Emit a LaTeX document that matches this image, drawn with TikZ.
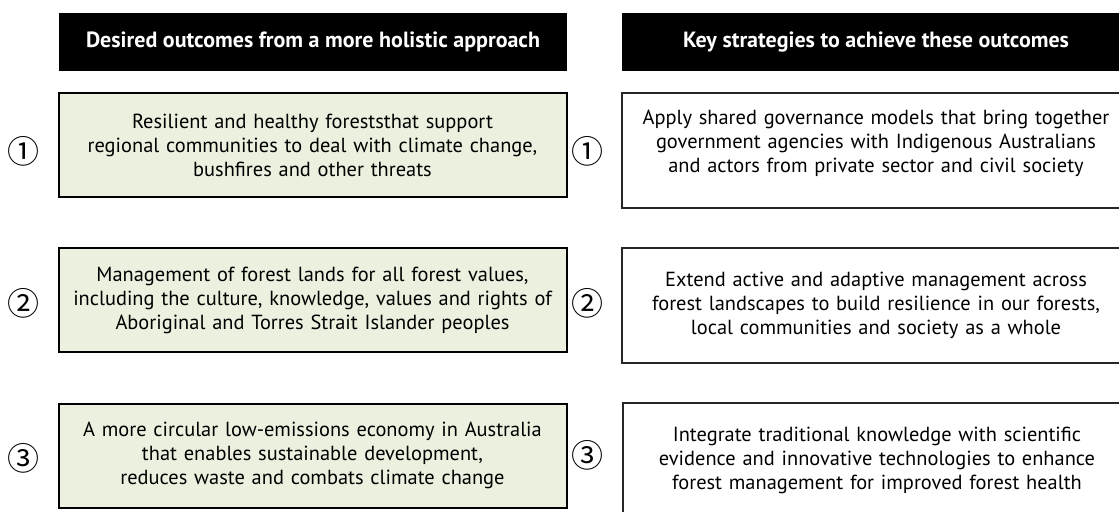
\documentclass[tikz,border=0pt]{standalone}
\usepackage{fontspec}
\setmainfont{PT Sans}
\newfontfamily\circfont{Noto Sans CJK JP}
\definecolor{leaf}{HTML}{EBF1DE}

\begin{document}
\begin{tikzpicture}[x=.5pt,y=-.5pt,
  head/.style={fill=black,text=white,font=\bfseries\fontsize{11}{13}\selectfont,
    minimum width=254pt,minimum height=29pt,inner sep=0pt},
  goal/.style={draw=black,line width=1pt,fill=leaf,minimum width=254pt,
    minimum height=52pt,text width=252pt,align=center,inner sep=0pt,
    font=\fontsize{10.2}{12}\selectfont},
  plan/.style={draw=black!85,line width=.65pt,fill=white,minimum width=254pt,
    minimum height=57.5pt,text width=252pt,align=center,inner sep=0pt,
    font=\fontsize{10.2}{12}\selectfont},
  num/.style={font=\circfont\fontsize{16}{16}\selectfont,inner sep=0pt}]

\useasboundingbox (0,0) rectangle (1119,511);
\clip (0,0) rectangle (1119,511);

% column heads
\node[head] (hl) at (313,42) {Desired outcomes from a more holistic approach};
\node[head] (hr) at (876,42) {Key strategies to achieve these outcomes};

% outcomes
\node[goal] (o1) at (312.5,145) {Resilient and healthy foreststhat support\\
  regional communities to deal with climate change,\\ bushfires and other threats};
\node[goal] (o2) at (312.5,300) {Management of forest lands for all forest values,\\
  including the culture, knowledge, values and rights of\\
  Aboriginal and Torres Strait Islander peoples};
\node[goal] (o3) at (312.5,455.5) {A more circular low-emissions economy in Australia\\
  that enables sustainable development,\\ reduces waste and combats climate change};

% strategies (right edge runs off the page)
\node[plan,execute at end node={\par\vspace{7pt}}] (s1) at (876,150.5) {Apply shared governance models that bring together\\
  government agencies with Indigenous Australians\\
  and actors from private sector and civil society};
\node[plan] (s2) at (876,305.5) {Extend active and adaptive management across\\
  forest landscapes to build resilience in our forests,\\
  local communities and society as a whole};
\node[plan] (s3) at (877,460.5) {Integrate traditional knowledge with scientific\\
  evidence and innovative technologies to enhance\\
  forest management for improved forest health};

% numbers
\node[num] (a1) at (23,151) {①};
\node[num] (a2) at (23,303) {②};
\node[num] (a3) at (23,458) {③};
\node[num] (b1) at (587,151) {①};
\node[num] (b2) at (587,303) {②};
\node[num] (b3) at (587,455) {③};

\end{tikzpicture}
\end{document}
